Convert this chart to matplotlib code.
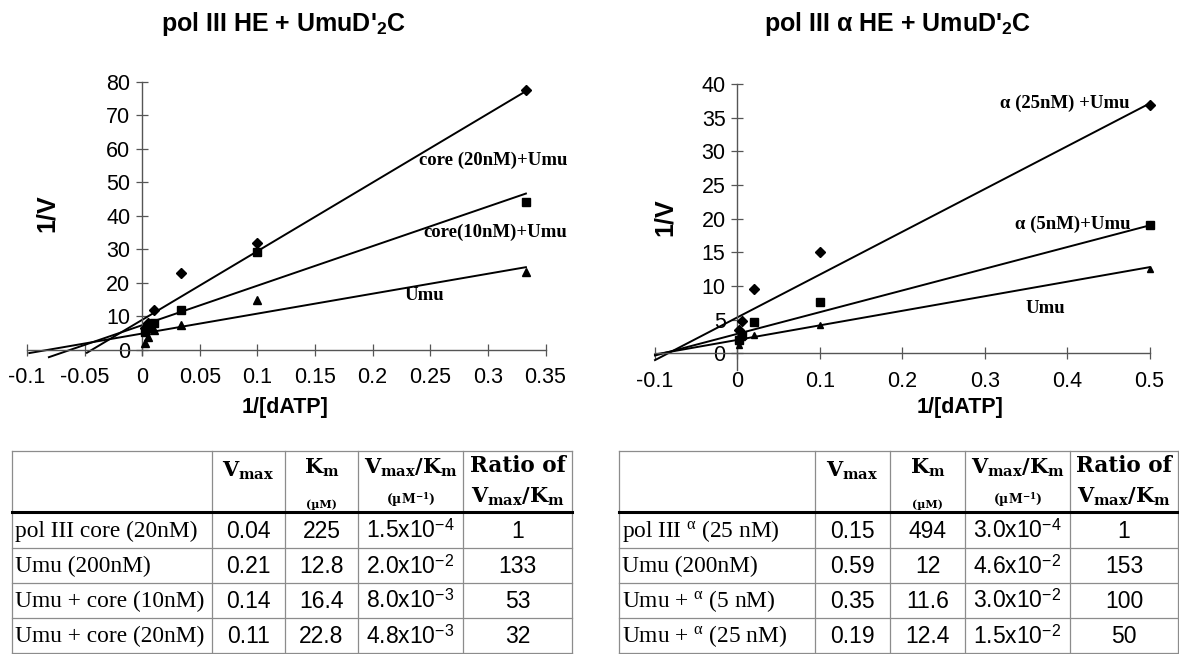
import matplotlib
matplotlib.use('Agg')
import matplotlib.pyplot as plt
import numpy as np

plt.rcParams['mathtext.fontset'] = 'custom'
plt.rcParams['mathtext.rm'] = 'Liberation Serif'
plt.rcParams['mathtext.it'] = 'Liberation Serif:italic'
plt.rcParams['mathtext.bf'] = 'Liberation Sans:bold'
plt.rcParams['mathtext.sf'] = 'Liberation Sans'
plt.rcParams['mathtext.tt'] = 'DejaVu Serif:bold'
plt.rcParams['font.family'] = ['Liberation Sans', 'DejaVu Sans']

# ---------------- data: left panel (pol III HE + UmuD'2C) ----------------
left_x = [0.002, 0.005, 0.01, 0.0333, 0.1, 0.333]
left_core20 = [6.5, 8.0, 11.8, 22.9, 31.8, 77.5]
left_core10 = [5.5, 7.0, 8.0, 11.9, 29.3, 44.3]
left_umu = [2.0, 4.0, 6.0, 7.5, 15.0, 23.4]
left_fit_intercept = [9.0, 7.4, 4.9]
left_fit_slope = [205.0, 118.0, 59.5]
left_fit_start = [-0.048, -0.081, -0.098]
left_xticks = [-0.1, -0.05, 0, 0.05, 0.1, 0.15, 0.2, 0.25, 0.3, 0.35]
left_xticklabels = ['-0.1', '-0.05', '0', '0.05', '0.1', '0.15', '0.2', '0.25', '0.3', '0.35']
left_yticks = [0, 10, 20, 30, 40, 50, 60, 70, 80]
left_line_labels = ['core (20nM)+Umu', 'core(10nM)+Umu', 'Umu']

# ---------------- data: right panel (pol III alpha HE + UmuD'2C) ----------------
right_x = [0.002, 0.005, 0.02, 0.1, 0.5]
right_a25 = [3.5, 4.8, 9.5, 15.0, 36.9]
right_a5 = [2.0, 2.7, 4.7, 7.7, 19.0]
right_umu = [1.2, 2.5, 2.7, 4.2, 12.5]
right_fit_intercept = [5.35, 2.9, 2.0]
right_fit_slope = [63.5, 32.2, 21.6]
right_fit_start = [-0.1, -0.1, -0.1]
right_xticks = [-0.1, 0, 0.1, 0.2, 0.3, 0.4, 0.5]
right_xticklabels = ['-0.1', '0', '0.1', '0.2', '0.3', '0.4', '0.5']
right_yticks = [0, 5, 10, 15, 20, 25, 30, 35, 40]
right_line_labels = ['\u03b1 (25nM) +Umu', '\u03b1 (5nM)+Umu', 'Umu']

# ---------------- table data ----------------
left_rows = ['pol III core (20nM)', 'Umu (200nM)', 'Umu + core (10nM)', 'Umu + core (20nM)']
left_vmax = ['0.04', '0.21', '0.14', '0.11']
left_km = ['225', '12.8', '16.4', '22.8']
left_eff_mant = ['1.5', '2.0', '8.0', '4.8']
left_eff_exp = ['-4', '-2', '-3', '-3']
left_ratio = ['1', '133', '53', '32']

right_rows = [r'pol III $^{\mathrm{\alpha}}$ (25 nM)', 'Umu (200nM)',
              r'Umu + $^{\mathrm{\alpha}}$ (5 nM)', r'Umu + $^{\mathrm{\alpha}}$ (25 nM)']
right_vmax = ['0.15', '0.59', '0.35', '0.19']
right_km = ['494', '12', '11.6', '12.4']
right_eff_mant = ['3.0', '4.6', '3.0', '1.5']
right_eff_exp = ['-4', '-2', '-2', '-2']
right_ratio = ['1', '153', '100', '50']

W, H = 1179, 654
fig = plt.figure(figsize=(W / 100, H / 100), dpi=100)
fig.patch.set_facecolor('white')


def px_axes(x0, x1, y_top, y_bot):
    return fig.add_axes([x0 / W, 1 - y_bot / H, (x1 - x0) / W, (y_bot - y_top) / H])


def draw_panel(ax, x, series, markers, msizes, fit_i, fit_s, fit_start, xlim, ylim,
               xticks, xticklabels, yticks, ybounds, labels, label_pos):
    ax.set_facecolor('none')
    ax.set_xlim(*xlim)
    ax.set_ylim(*ylim)
    for s in ('top', 'right'):
        ax.spines[s].set_visible(False)
    ax.spines['left'].set_position(('data', 0))
    ax.spines['bottom'].set_position(('data', 0))
    ax.spines['left'].set_bounds(*ybounds)
    for s in ('left', 'bottom'):
        ax.spines[s].set_color('#555555')
        ax.spines[s].set_linewidth(1.0)
    xx_arr = np.asarray(x)
    for ys, m, ms in zip(series, markers, msizes):
        ax.plot(xx_arr, ys, ls='none', marker=m, color='black', ms=ms, clip_on=False, zorder=3)
    for b, k, x0 in zip(fit_i, fit_s, fit_start):
        xx = np.array([x0, x[-1]])
        ax.plot(xx, b + k * xx, color='black', lw=1.4, clip_on=False, zorder=2)
    ax.set_xticks(xticks)
    ax.set_xticklabels(xticklabels)
    ax.set_yticks(yticks)
    ax.tick_params(direction='inout', length=9, width=0.9, color='#555555',
                   labelsize=15.5, pad=4)
    ax.tick_params(axis='x', pad=8)
    for t in ax.get_xticklabels() + ax.get_yticklabels():
        t.set_family('Liberation Sans')
    for lab, (lx, ly) in zip(labels, label_pos):
        ax.text(lx, ly, lab, ha='left', va='center', fontsize=13.5, fontweight='bold',
                family='Liberation Serif', zorder=4)


axL = px_axes(27, 545.5, 82, 360)
draw_panel(axL, left_x, [left_core20, left_core10, left_umu], ['D', 's', '^'], [5, 6, 6],
           left_fit_intercept, left_fit_slope, left_fit_start,
           (-0.1, 0.35), (-3, 80), left_xticks, left_xticklabels, left_yticks, (-1.5, 80),
           left_line_labels, [(0.240, 56.7), (0.244, 35.2), (0.228, 16.4)])

axR = px_axes(655, 1149.5, 84, 370.2)
draw_panel(axR, right_x, [right_a25, right_a5, right_umu], ['D', 's', '^'], [5, 6, 5],
           right_fit_intercept, right_fit_slope, right_fit_start,
           (-0.1, 0.5), (-2.5, 40), right_xticks, right_xticklabels, right_yticks, (-2.5, 40),
           right_line_labels, [(0.318, 37.2), (0.337, 19.1), (0.349, 6.7)])

# ---------------- overlay in pixel coordinates ----------------
ov = fig.add_axes([0, 0, 1, 1])
ov.set_xlim(0, W)
ov.set_ylim(H, 0)
ov.axis('off')
ov.set_facecolor('none')

ov.text(283, 24, r"pol III HE + UmuD'$_{\mathbf{2}}$C", ha='center', va='center',
        fontsize=18, fontweight='bold')
ov.text(898, 24, "pol III \u03b1 HE + UmuD'$_{\\mathbf{2}}$C", ha='center', va='center',
        fontsize=18, fontweight='bold')
ov.text(47, 213, '1/V', rotation=90, ha='center', va='center', fontsize=18, fontweight='bold')
ov.text(665, 217, '1/V', rotation=90, ha='center', va='center', fontsize=18, fontweight='bold')
ov.text(285, 408, '1/[dATP]', ha='center', va='center', fontsize=15.5, fontweight='bold')
ov.text(960, 408, '1/[dATP]', ha='center', va='center', fontsize=15.5, fontweight='bold')


def draw_table(xs, ys, rows, vmax, km, eff_m, eff_e, ratio):
    grid_c = '#8c8c8c'
    for x in xs:
        ov.plot([x, x], [ys[0], ys[-1]], color=grid_c, lw=0.9, clip_on=False)
    for i, y in enumerate(ys):
        if i == 1:
            ov.plot([xs[0], xs[-1]], [y, y], color='black', lw=2.2, clip_on=False)
        else:
            ov.plot([xs[0], xs[-1]], [y, y], color=grid_c, lw=0.9, clip_on=False)
    cx = [(xs[i] + xs[i + 1]) / 2 for i in range(len(xs) - 1)]
    hdr = dict(ha='center', va='center', fontsize=15)
    ov.text(cx[1], 471, r'$\mathtt{V_{max}}$', **hdr)
    ov.text(cx[2], 468, r'$\mathtt{K_{m}}$', **hdr)
    ov.text(cx[2], 504, '(\u00b5M)', ha='center', va='center', fontsize=8,
            family='DejaVu Serif', fontweight='bold')
    ov.text(cx[3], 468, r'$\mathtt{V_{max}/K_{m}}$', **hdr)
    ov.text(cx[3], 500, '(\u00b5M$^{\\mathtt{-1}}$)', ha='center', va='center', fontsize=9,
            family='DejaVu Serif', fontweight='bold')
    ov.text(cx[4], 466, 'Ratio of', ha='center', va='center', fontsize=15.5,
            family='DejaVu Serif', fontweight='bold')
    ov.text(cx[4], 497, r'$\mathtt{V_{max}/K_{m}}$', **hdr)
    for r in range(len(rows)):
        yc = (ys[r + 1] + ys[r + 2]) / 2 + 1
        ov.text(xs[0] + 3, yc, rows[r], ha='left', va='center', fontsize=16.8,
                family='Liberation Serif')
        num = dict(ha='center', va='center', fontsize=16.5, family='Liberation Sans')
        ov.text(cx[1], yc, vmax[r], **num)
        ov.text(cx[2], yc, km[r], **num)
        ov.text(cx[3], yc, eff_m[r] + 'x10$^{\\mathsf{' + eff_e[r] + '}}$', **num)
        ov.text(cx[4], yc, ratio[r], **num)


draw_table([12, 212, 285, 358, 463, 572], [451, 512, 548, 583, 618, 653],
           left_rows, left_vmax, left_km, left_eff_mant, left_eff_exp, left_ratio)
draw_table([619, 815, 890, 965, 1070, 1178], [451, 512, 548, 583, 618, 653],
           right_rows, right_vmax, right_km, right_eff_mant, right_eff_exp, right_ratio)

fig.savefig('out.png', dpi=100, facecolor='white')
